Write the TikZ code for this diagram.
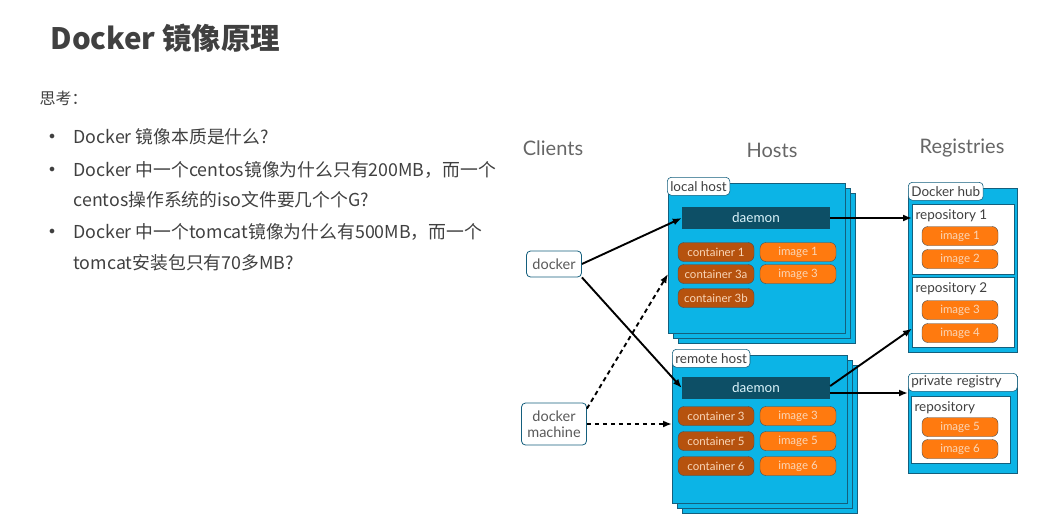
\documentclass[tikz,border=0pt]{standalone}
\usepackage{fontspec}
\setmainfont{Lato}
\newfontfamily\cjk{Noto Sans CJK SC}
\usetikzlibrary{shadows,positioning,arrows.meta}
\definecolor{hostblue}{RGB}{12,180,230}
\definecolor{hostedge}{RGB}{20,95,125}
\definecolor{daemonblue}{RGB}{13,79,102}
\definecolor{contbrown}{RGB}{182,82,14}
\definecolor{imgorange}{RGB}{255,122,15}
\definecolor{slidegray}{RGB}{64,64,64}
\definecolor{pilltext}{RGB}{250,215,185}

\begin{document}
\begin{tikzpicture}[x=1pt,y=-1pt,
  slidetext/.style={anchor=west,text=slidegray,font=\cjk\fontsize{17.8}{20}\selectfont},
  heading/.style={text=slidegray!80,font=\fontsize{20}{22}\selectfont},
  hostbox/.style={draw=hostedge,fill=hostblue,line width=0.8pt,anchor=north west,
    double copy shadow={shadow xshift=5pt,shadow yshift=-5pt}},
  regbox/.style={draw=hostedge,fill=hostblue,line width=0.8pt,anchor=north west},
  repobox/.style={draw=hostedge,fill=white,line width=0.6pt,anchor=north west},
  tab/.style={draw=hostedge,fill=white,rounded corners=4pt,line width=0.6pt,anchor=north west,
    inner xsep=3pt,inner ysep=1pt,minimum height=18pt,text=black!75,font=\fontsize{13.5}{15}\selectfont},
  replabel/.style={anchor=west,text=black!75,font=\fontsize{13.5}{15}\selectfont},
  daemon/.style={fill=daemonblue,minimum width=148pt,minimum height=22pt,text=white!85!hostblue,
    font=\fontsize{13.5}{15}\selectfont},
  pill/.style={draw=black!70,rounded corners=6pt,minimum width=76pt,minimum height=19pt,
    inner sep=0pt,text=pilltext,font=\fontsize{11.5}{12}\selectfont},
  cont/.style={pill,fill=contbrown},
  img/.style={pill,fill=imgorange},
  client/.style={draw=hostedge,fill=white,rounded corners=4pt,line width=0.8pt,align=center,
    text=black!65,font=\fontsize{14.5}{16}\selectfont},
  link/.style={line width=1.9pt,-{Latex[length=9pt,width=7pt]}},
  dlink/.style={link,dash pattern=on 4.5pt off 3.5pt}]
\useasboundingbox (0,0) rectangle (1059,527);

% slide text
\node[anchor=west,text=slidegray,font=\cjk\bfseries\fontsize{29.5}{32}\selectfont] (title) at (47,38) {Docker 镜像原理};
\node[anchor=west,text=slidegray,font=\cjk\fontsize{16}{18}\selectfont] (think) at (36,98) {思考：};
\node[slidetext] (q1) at (70,137) {Docker 镜像本质是什么?};
\node[slidetext] (q2) at (70,170) {Docker 中一个centos镜像为什么只有200MB，而一个};
\node[slidetext] (q2b) at (70,200) {centos操作系统的iso文件要几个个G?};
\node[slidetext] (q3) at (70,232) {Docker 中一个tomcat镜像为什么有500MB，而一个};
\node[slidetext] (q3b) at (70,263) {tomcat安装包只有70多MB?};
\node[text=slidegray,font=\fontsize{12}{12}\selectfont] (b1) at (52,137) {$\bullet$};
\node[text=slidegray,font=\fontsize{12}{12}\selectfont] (b2) at (52,170) {$\bullet$};
\node[text=slidegray,font=\fontsize{12}{12}\selectfont] (b3) at (52,232) {$\bullet$};

% headings
\node[heading] (clients) at (553,148) {Clients};
\node[heading] (hosts) at (772,150) {Hosts};
\node[heading] (registries) at (962,148) {Registries};

% clients
\node[client,minimum width=55pt,minimum height=26pt] (docker) at (554,264) {docker};
\node[client,minimum width=65pt,minimum height=42pt,inner sep=1pt] (machine) at (554,424) {docker\\machine};

% local host
\node[hostbox,minimum width=177pt,minimum height=150pt] (local) at (668,183) {};
\node[tab] (localtab) at (667,177) {local host};
\node[daemon] (ldaemon) at (756,218) {daemon};
\node[cont] (lc1) at (716,252) {container 1};
\node[cont] (lc3a) at (716,274) {container 3a};
\node[cont] (lc3b) at (716,298) {container 3b};
\node[img] (li1) at (798,252) {image 1};
\node[img] (li3) at (798,274) {image 3};

% remote host
\node[hostbox,minimum width=175pt,minimum height=148pt] (remote) at (672,355) {};
\node[tab] (remotetab) at (672,349) {remote host};
\node[daemon] (rdaemon) at (756,388) {daemon};
\node[cont] (rc3) at (716,416) {container 3};
\node[cont] (rc5) at (716,441) {container 5};
\node[cont] (rc6) at (716,466) {container 6};
\node[img] (ri3) at (798,416) {image 3};
\node[img] (ri5) at (798,441) {image 5};
\node[img] (ri6) at (798,466) {image 6};

% docker hub
\node[regbox,minimum width=109pt,minimum height=164pt] (hub) at (908,188) {};
\node[tab] (hubtab) at (908,182) {Docker hub};
\node[repobox,minimum width=102pt,minimum height=70pt] (repo1) at (912,204) {};
\node[replabel] (repo1lbl) at (912,216) {repository 1};
\node[img] (hi1) at (960,236) {image 1};
\node[img] (hi2) at (960,259) {image 2};
\node[repobox,minimum width=102pt,minimum height=70pt] (repo2) at (912,277) {};
\node[replabel] (repo2lbl) at (912,289) {repository 2};
\node[img] (hi3) at (960,310) {image 3};
\node[img] (hi4) at (960,333) {image 4};

% private registry
\node[regbox,minimum width=109pt,minimum height=97pt] (private) at (908,376) {};
\node[tab,text width=103pt] (privtab) at (908,373) {private registry};
\node[repobox,minimum width=99pt,minimum height=67pt] (repo) at (911,396) {};
\node[replabel] (repolbl) at (911,408) {repository};
\node[img] (pi5) at (960,427) {image 5};
\node[img] (pi6) at (960,449) {image 6};

% connections
\draw[link] (docker.east) -- (ldaemon.west);
\draw[link] (docker.south east) -- (rdaemon.west);
\draw[dlink] ([yshift=-6pt]machine.north east) -- (local.west |- lc3a);
\draw[dlink] (machine.east) -- (remote.west |- machine.east);
\draw[link] (ldaemon.east) -- (repo1.west |- ldaemon.east);
\draw[link] ([yshift=2pt]rdaemon.east) -- ([yshift=19pt]repo2.south west);
\draw[link] ([yshift=-5pt]rdaemon.east) -- (private.west |- 0,393);
\end{tikzpicture}
\end{document}
